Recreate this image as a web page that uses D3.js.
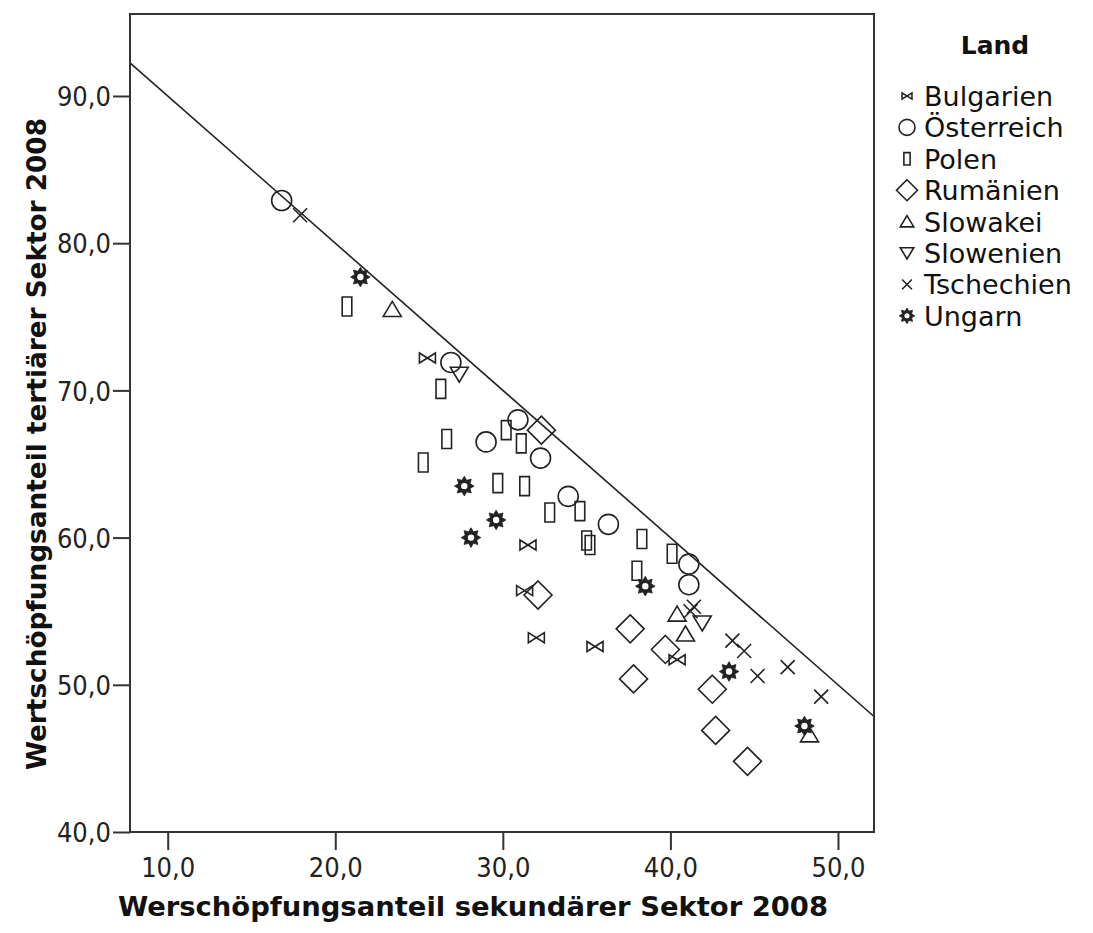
<!DOCTYPE html>
<html>
<head>
<meta charset="utf-8">
<script src="https://cdn.jsdelivr.net/npm/d3@7"></script>
<style>
  html, body { margin: 0; padding: 0; background: #fff; }
  svg { display: block; }
</style>
</head>
<body>
<svg id="chart" width="1093" height="933"></svg>
<script>
// Value-added shares 2008 by region: [secondary sector %, tertiary sector %]
const laender = ["Bulgarien", "Österreich", "Polen", "Rumänien", "Slowakei", "Slowenien", "Tschechien", "Ungarn"];

const bulgarien = [[25.5, 72.2], [31.5, 59.5], [31.3, 56.4], [32.0, 53.2], [35.5, 52.6], [40.4, 51.7]];
const oesterreich = [[16.8, 82.9], [26.9, 71.9], [30.9, 68.0], [29.0, 66.5], [32.25, 65.4], [33.9, 62.8], [36.3, 60.9], [41.1, 58.2], [41.1, 56.8]];
const polen = [[20.7, 75.7], [26.3, 70.1], [30.2, 67.3], [26.65, 66.7], [31.1, 66.4], [25.25, 65.1], [29.7, 63.7], [31.3, 63.5], [32.8, 61.7], [34.6, 61.8], [35.0, 59.8], [35.2, 59.5], [38.3, 59.9], [40.1, 58.9], [38.0, 57.75]];
const rumaenien = [[32.3, 67.3], [32.1, 56.1], [37.6, 53.8], [39.7, 52.4], [37.8, 50.4], [42.5, 49.7], [42.7, 46.9], [44.6, 44.8]];
const slowakei = [[23.4, 75.5], [40.4, 54.8], [40.9, 53.45], [48.3, 46.6]];
const slowenien = [[27.4, 71.1], [41.9, 54.2]];
const tschechien = [[17.9, 81.9], [41.2, 55.0], [41.4, 55.3], [43.7, 53.0], [44.4, 52.3], [45.2, 50.6], [47.0, 51.2], [49.0, 49.2]];
const ungarn = [[21.5, 77.7], [27.7, 63.5], [29.6, 61.2], [28.1, 60.0], [38.5, 56.7], [43.5, 50.9], [48.0, 47.2]];

const xTicks = [10, 20, 30, 40, 50];
const yTicks = [40, 50, 60, 70, 80, 90];

const seriesValues = [bulgarien, oesterreich, polen, rumaenien, slowakei, slowenien, tschechien, ungarn];
const markerShapes = ["bowtie", "circle", "rect", "diamond", "triangle", "triangleDown", "cross", "star"];

const svg = d3.select("#chart");
const ink = "#222";

const plot = { left: 130, right: 874, top: 14, bottom: 832 };

const x = d3.scaleLinear().domain([7.75, 52.15]).range([plot.left, plot.right]);
const y = d3.scaleLinear().domain([40, 95.57]).range([plot.bottom, plot.top]);

const fmt = v => d3.format(".1f")(v).replace(".", ",");

// Marker outlines drawn around (0,0); s scales the shape
function markerPath(shape, s) {
  const p = d3.path();
  switch (shape) {
    case "circle":
      p.arc(0, 0, 10 * s, 0, 2 * Math.PI);
      break;
    case "rect":
      p.rect(-4.8 * s, -9.5 * s, 9.6 * s, 19 * s);
      break;
    case "diamond":
      p.moveTo(0, -14 * s); p.lineTo(14 * s, 0); p.lineTo(0, 14 * s); p.lineTo(-14 * s, 0); p.closePath();
      break;
    case "triangle":
      p.moveTo(0, -8 * s); p.lineTo(9 * s, 7 * s); p.lineTo(-9 * s, 7 * s); p.closePath();
      break;
    case "triangleDown":
      p.moveTo(0, 8 * s); p.lineTo(9 * s, -7 * s); p.lineTo(-9 * s, -7 * s); p.closePath();
      break;
    case "cross":
      p.moveTo(-7 * s, -7 * s); p.lineTo(7 * s, 7 * s);
      p.moveTo(7 * s, -7 * s); p.lineTo(-7 * s, 7 * s);
      break;
    case "bowtie":
      p.moveTo(-8 * s, -5 * s); p.lineTo(8 * s, 5 * s); p.lineTo(8 * s, -5 * s); p.lineTo(-8 * s, 5 * s); p.closePath();
      break;
    case "star": {
      const n = 8, ro = 9.8 * s, ri = 6.2 * s;
      for (let i = 0; i < 2 * n; i++) {
        const r = i % 2 === 0 ? ro : ri;
        const a = -Math.PI / 2 + i * Math.PI / n;
        if (i === 0) p.moveTo(r * Math.cos(a), r * Math.sin(a));
        else p.lineTo(r * Math.cos(a), r * Math.sin(a));
      }
      p.closePath();
      break;
    }
  }
  return p.toString();
}

function drawMarker(g, shape, s) {
  if (shape === "star") {
    g.append("path").attr("d", markerPath(shape, s)).attr("fill", ink).attr("stroke", ink).attr("stroke-width", 0.8);
    g.append("circle").attr("r", 3.2 * s).attr("fill", "#fff");
  } else {
    g.append("path").attr("d", markerPath(shape, s))
      .attr("fill", "none").attr("stroke", ink).attr("stroke-width", 1.6);
  }
}

// Clip for data and reference line
svg.append("defs").append("clipPath").attr("id", "plotClip")
  .append("rect").attr("x", plot.left).attr("y", plot.top)
  .attr("width", plot.right - plot.left).attr("height", plot.bottom - plot.top);

// Reference line: tertiary = 100 - secondary
const lineGen = d3.line().x(d => x(d)).y(d => y(100 - d));
svg.append("path")
  .attr("clip-path", "url(#plotClip)")
  .attr("d", lineGen(x.domain()))
  .attr("fill", "none").attr("stroke", ink).attr("stroke-width", 1.6);

// Points
const pts = svg.append("g").attr("clip-path", "url(#plotClip)");
seriesValues.forEach((vals, i) => {
  vals.forEach(d => {
    const g = pts.append("g").attr("transform", `translate(${x(d[0])},${y(d[1])})`);
    drawMarker(g, markerShapes[i], 1);
  });
});

// Frame
svg.append("rect")
  .attr("x", plot.left).attr("y", plot.top)
  .attr("width", plot.right - plot.left).attr("height", plot.bottom - plot.top)
  .attr("fill", "none").attr("stroke", "#333").attr("stroke-width", 2);

// Axes
const tickFont = "'DejaVu Sans Condensed', 'DejaVu Sans', sans-serif";

const xAxis = svg.append("g").attr("transform", `translate(0,${plot.bottom})`)
  .call(d3.axisBottom(x).tickValues(xTicks).tickFormat(fmt).tickSize(18).tickPadding(8));
const yAxis = svg.append("g").attr("transform", `translate(${plot.left},0)`)
  .call(d3.axisLeft(y).tickValues(yTicks).tickFormat(fmt).tickSize(17).tickPadding(2));

[xAxis, yAxis].forEach(a => {
  a.select(".domain").remove();
  a.selectAll(".tick line").attr("stroke", "#333").attr("stroke-width", 2);
  a.selectAll(".tick text")
    .attr("fill", ink)
    .style("font-family", tickFont)
    .style("font-size", "27px");
});
yAxis.selectAll(".tick text").attr("dy", "0.36em");

// Axis titles
const titleFont = "'DejaVu Sans Condensed', 'DejaVu Sans', sans-serif";
svg.append("text")
  .attr("x", 473).attr("y", 916)
  .attr("text-anchor", "middle")
  .attr("textLength", 710).attr("lengthAdjust", "spacingAndGlyphs")
  .style("font-family", titleFont).style("font-weight", "bold").style("font-size", "27px")
  .attr("fill", "#111")
  .text("Werschöpfungsanteil sekundärer Sektor 2008");

svg.append("text")
  .attr("transform", "translate(46,444) rotate(-90)")
  .attr("text-anchor", "middle")
  .attr("textLength", 652).attr("lengthAdjust", "spacingAndGlyphs")
  .style("font-family", titleFont).style("font-weight", "bold").style("font-size", "27px")
  .attr("fill", "#111")
  .text("Wertschöpfungsanteil tertiärer Sektor 2008");

// Legend
const legend = svg.append("g");
legend.append("text")
  .attr("x", 995).attr("y", 54)
  .attr("text-anchor", "middle")
  .style("font-family", "'DejaVu Sans', sans-serif").style("font-weight", "bold").style("font-size", "25px")
  .attr("fill", "#111")
  .text("Land");

const legendScale = { bowtie: 0.62, circle: 0.8, rect: 0.65, diamond: 0.75, triangle: 0.75, triangleDown: 0.75, cross: 0.7, star: 0.8 };
laender.forEach((name, i) => {
  const cy = 96 + i * 31.4;
  const g = legend.append("g").attr("transform", `translate(907,${cy})`);
  drawMarker(g, markerShapes[i], legendScale[markerShapes[i]]);
  legend.append("text")
    .attr("x", 924).attr("y", cy + 10)
    .style("font-family", "'DejaVu Sans', sans-serif").style("font-size", "27px")
    .attr("fill", "#111")
    .text(name);
});
</script>
</body>
</html>
